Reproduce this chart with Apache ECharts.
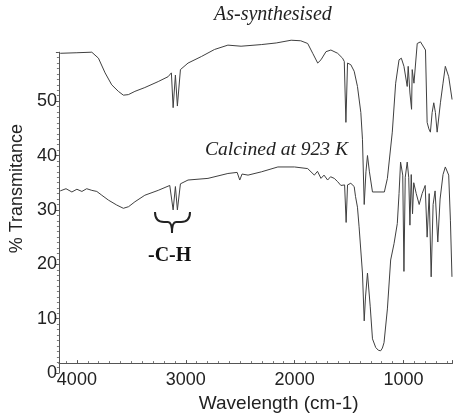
<!DOCTYPE html>
<html>
<head>
<meta charset="utf-8">
<script src="https://cdn.jsdelivr.net/npm/echarts@6/dist/echarts.min.js"></script>
<style>html,body{margin:0;padding:0;background:#fff;}#c{width:454px;height:418px;}</style>
</head>
<body>
<div id="c"></div>
<script>
// Wavenumbers (cm-1) and % transmittance
var asWn = [4153,4000,3863,3802,3741,3680,3619,3573,3527,3467,3376,3253,3162,3132,3116,3095,3077,3049,2979,2857,2736,2613,2492,2306,2169,2154,2032,1944,1880,1834,1788,1758,1712,1667,1605,1560,1544,1529,1514,1484,1453,1423,1392,1377,1361,1345,1331,1313,1285,1176,1148,1103,1072,1041,1020,996,966,957,941,926,920,904,874,844,798,783,767,753,737,722,707,691,661,637,616,585,554];
var asT  = [58.8,58.9,59.0,57.9,55.2,53.0,51.8,51.1,51.2,51.8,52.5,53.6,54.5,55.2,48.8,54.8,49.1,55.8,57.0,58.2,59.5,60.3,60.1,60.4,60.7,61.0,61.2,61.1,60.6,58.8,57.0,57.6,59.1,59.4,58.8,57.9,57.3,46.1,57.0,56.7,55.5,52.7,47.9,43.0,31.0,37.0,40.0,37.0,33.3,33.3,35.8,44.3,53.3,57.6,57.9,56.4,52.7,56.4,51.5,48.5,55.8,53.3,60.6,60.9,59.4,46.1,44.9,44.3,47.9,49.7,47.9,44.3,49.7,53.3,56.4,54.5,50.3];

var calWn = [4153,4100,4046,4000,3954,3910,3863,3817,3771,3710,3634,3573,3525,3467,3376,3253,3147,3132,3116,3095,3077,3049,2979,2796,2613,2528,2504,2483,2428,2306,2154,2001,1880,1819,1790,1758,1730,1697,1670,1636,1605,1575,1541,1527,1514,1484,1453,1441,1423,1408,1377,1361,1349,1331,1306,1285,1255,1231,1210,1194,1179,1148,1118,1087,1057,1041,1027,1007,996,984,966,952,941,929,917,906,883,856,829,801,783,764,746,728,710,685,664,637,616,585,569,555];
var calT  = [33.5,33.9,33.3,33.8,33.4,33.9,33.6,33.4,32.7,31.8,30.9,30.3,30.6,31.5,32.7,33.6,34.5,34.6,30.0,34.3,30.0,34.8,35.5,35.8,36.7,36.9,35.5,36.6,36.4,37.0,37.9,37.9,37.6,36.4,37.1,35.8,36.4,35.5,36.1,35.8,35.2,34.5,34.6,27.7,34.6,34.9,34.3,32.5,30.5,26.9,18.4,9.6,14.0,18.4,12.3,6.3,4.7,4.2,4.1,4.6,5.6,11.8,20.8,23.8,27.5,33.0,38.8,36.4,18.7,36.0,38.8,36.0,27.2,36.5,29.3,35.0,33.0,31.0,33.0,34.5,25.0,33.0,17.7,31.0,33.5,24.1,32.0,36.5,37.9,36.4,28.0,17.7];

var yTicks = [0,10,20,30,40,50];
var xTicks = [1000,2000,3000,4000];

function pairs(xs, ys){ return xs.map(function(x,i){ return [x, ys[i]]; }); }

var chart = echarts.init(document.getElementById('c'), null, {renderer:'canvas'});
var lineColor = '#404040';
var braceStyle = {stroke: '#222', lineWidth: 2, fill: null};
chart.setOption({
  animation: false,
  backgroundColor: '#ffffff',
  grid: {left: 57, right: 1.5, top: 52.2, bottom: 41.3, containLabel: false},
  xAxis: {
    type: 'value', inverse: true, min: 550, max: 4165, splitNumber: 4,
    offset: -10,
    name: 'Wavelength (cm-1)', nameLocation: 'middle', nameGap: 20,
    nameTextStyle: {fontFamily: 'Liberation Sans, Arial, sans-serif', fontSize: 19, color: '#222', padding: [0,0,0,46]},
    axisLine: {lineStyle: {color: '#555', width: 1}},
    axisTick: {inside: true, length: 3, lineStyle: {color: '#555'}},
    minorTick: {show: true, splitNumber: 10, length: 2, lineStyle: {color: '#777'}},
    splitLine: {show: false},
    axisLabel: {
      margin: 8, fontFamily: 'Liberation Sans, Arial, sans-serif', fontSize: 18, color: '#222',
      showMinLabel: false, showMaxLabel: false,
      formatter: function(v){ return xTicks.indexOf(v) >= 0 ? String(v) : ''; }
    }
  },
  yAxis: {
    type: 'value', min: 0, max: 59, interval: 10,
    name: '% Transmitance', nameLocation: 'middle', nameGap: 28, nameRotate: 90,
    nameTextStyle: {fontFamily: 'Liberation Sans, Arial, sans-serif', fontSize: 18, color: '#222', padding: [0,0,0,48]},
    axisLine: {show: true, lineStyle: {color: '#555', width: 1}},
    axisTick: {show: true, length: 3, lineStyle: {color: '#555'}},
    minorTick: {show: true, splitNumber: 10, length: 2, lineStyle: {color: '#777'}},
    splitLine: {show: false},
    axisLabel: {
      margin: 2, fontFamily: 'Liberation Sans, Arial, sans-serif', fontSize: 18, color: '#222',
      formatter: function(v){ return yTicks.indexOf(v) >= 0 ? String(v) : ''; }
    }
  },
  series: [
    {type: 'line', data: pairs(asWn, asT), showSymbol: false, clip: false,
     lineStyle: {color: lineColor, width: 1}},
    {type: 'line', data: pairs(calWn, calT), showSymbol: false, clip: false,
     lineStyle: {color: lineColor, width: 1}}
  ],
  graphic: [
    {type: 'text', x: 214, y: 5, style: {text: 'As-synthesised', font: 'italic 20px "Liberation Serif", "Times New Roman", serif', fill: '#222'}},
    {type: 'text', x: 205, y: 140, style: {text: 'Calcined at 923 K', font: 'italic 19.6px "Liberation Serif", "Times New Roman", serif', fill: '#222'}},
    {type: 'text', x: 148, y: 246, style: {text: '-C-H', font: 'bold 20px "Liberation Serif", "Times New Roman", serif', fill: '#111'}},
    {type: 'bezierCurve', shape: {x1: 155, y1: 212, cpx1: 155, cpy1: 222, x2: 164, y2: 222}, style: braceStyle},
    {type: 'line', shape: {x1: 164, y1: 222, x2: 168, y2: 222}, style: braceStyle},
    {type: 'bezierCurve', shape: {x1: 168, y1: 222, cpx1: 172, cpy1: 222, x2: 172, y2: 233}, style: braceStyle},
    {type: 'bezierCurve', shape: {x1: 172, y1: 233, cpx1: 172, cpy1: 222, x2: 176, y2: 222}, style: braceStyle},
    {type: 'line', shape: {x1: 176, y1: 222, x2: 181, y2: 222}, style: braceStyle},
    {type: 'bezierCurve', shape: {x1: 181, y1: 222, cpx1: 190, cpy1: 222, x2: 190, y2: 212}, style: braceStyle}
  ]
});
</script>
</body>
</html>
